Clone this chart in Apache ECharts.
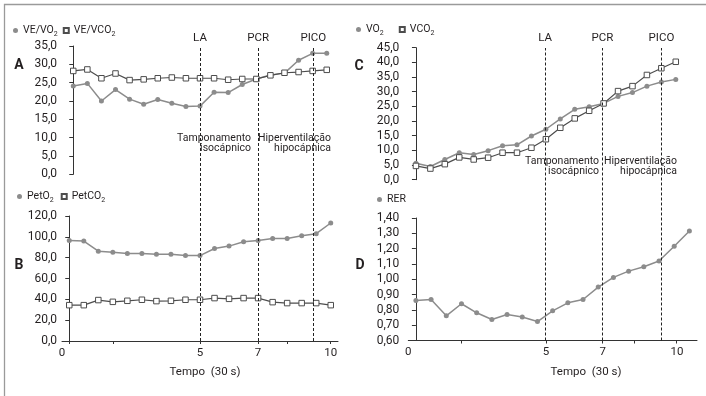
<!DOCTYPE html>
<html><head><meta charset="utf-8">
<script src="https://cdn.jsdelivr.net/npm/echarts@6/dist/echarts.min.js"></script>
<style>html,body{margin:0;padding:0;background:#fff}#c{width:706px;height:396px}</style>
</head><body><div id="c"></div>
<script>
// sample index (30 s stages)
const steps = [0,1,2,3,4,5,6,7,8,9,10,11,12,13,14,15,16,17,18];
// Panel A
const veVo2  = [24.1,24.8,20.0,23.1,20.5,19.1,20.4,19.4,18.5,18.6,22.4,22.3,24.5,26.0,27.1,27.6,31.1,33.0,33.0];
const veVco2 = [28.2,28.6,26.2,27.5,25.7,25.9,26.2,26.4,26.2,26.2,26.2,25.8,26.0,26.0,27.0,27.7,27.9,28.2,28.5];
// Panel B
const petO2  = [96.5,95.9,86.2,85.3,84.0,84.0,83.3,83.3,82.0,82.0,88.8,91.1,95.2,96.5,98.5,98.5,101.0,103.0,113.3];
const petCo2 = [34.4,34.4,39.3,37.6,38.6,39.6,38.3,38.6,39.6,39.6,41.2,40.5,41.2,41.2,37.3,36.4,36.4,36.4,34.4];
// Panel C
const vo2  = [5.6,4.5,6.9,9.2,8.6,9.9,11.6,11.9,14.9,17.2,20.7,24.0,24.9,26.0,28.4,29.7,31.9,33.3,34.2];
const vco2 = [4.7,3.8,5.3,7.6,6.9,7.5,9.2,9.2,10.9,13.8,17.7,20.9,23.5,26.0,30.2,31.9,35.7,38.0,40.2];
// Panel D
const rer = [0.862,0.868,0.761,0.840,0.781,0.737,0.770,0.753,0.724,0.794,0.846,0.868,0.949,1.012,1.053,1.082,1.119,1.215,1.315];

// x-axis tick labels ("Tempo (30 s)") and where they sit on the sample index scale
const xTickLabels = ['0','5','7','10'];
const leftLabelPos = [-0.5, 9, 13, 18];
const leftTickPos = [0, 3, 9, 13, 15, 18];
const rightLabelPos = [-0.5, 8.56, 12.29, 17.18];
const rightTickPos = [2.97, 8.56, 12.29, 14.37, 17.16];

// threshold markers
const markerNames = ['LA','PCR','PICO'];
const leftMarkerPos = [9, 13, 16.8];
const rightMarkerPos = [8.51, 12.28, 16.16];

const FONT = 'Roboto';
const TXT = '#231f20';
const GRAY = '#8c8c8c';
const DARK = '#4d4d4d';

function pairs(arr){ return steps.map((s,i)=>[s, arr[i]]); }
function sub(name){ return '{n|' + name.slice(0,-1) + '}{s|' + name.slice(-1) + '}'; }
function labelFor(posArr){
  return function(v){
    let best = 0, d = 1e9;
    posArr.forEach((p,k)=>{ if (Math.abs(p-v) < d) { d = Math.abs(p-v); best = k; } });
    return xTickLabels[best];
  };
}
const rich = { n:{fontSize:10.5, fontFamily:FONT, color:TXT, lineHeight:14}, s:{fontSize:7, fontFamily:FONT, color:TXT, verticalAlign:'bottom', lineHeight:9} };

function yAxis(gi, min, max, interval, dec, margin){
  return {
    type:'value', gridIndex:gi, min:min, max:max, interval:interval,
    axisLine:{show:true, lineStyle:{color:'#333', width:1}},
    axisTick:{show:true, inside:false, length:4, lineStyle:{color:'#333'}},
    splitLine:{show:false},
    axisLabel:{fontSize:12, fontFamily:FONT, color:TXT, margin:margin,
      formatter: v => v.toFixed(dec).replace('.', ',')}
  };
}
function hiddenX(gi, min, max){
  return {type:'value', gridIndex:gi, min:min, max:max, show:false};
}
function shownX(gi, labelPos, tickPos){
  return {
    type:'value', gridIndex:gi, min:-0.5, max:18.5,
    axisLine:{show:true, onZero:false, lineStyle:{color:'#333', width:1}},
    axisTick:{show:true, length:3, inside:false, customValues:tickPos, lineStyle:{color:'#333'}},
    splitLine:{show:false},
    axisLabel:{show:true, customValues:labelPos, fontSize:11.5, fontFamily:FONT, color:TXT, margin:6,
      formatter: labelFor(labelPos)}
  };
}
function circleSeries(name, xi, yi, arr){
  return {name:name, type:'line', xAxisIndex:xi, yAxisIndex:yi, data:pairs(arr),
    symbol:'circle', symbolSize:5, showSymbol:true, animation:false,
    lineStyle:{color:GRAY, width:1.5}, itemStyle:{color:GRAY}, z:3};
}
function squareSeries(name, xi, yi, arr){
  return {name:name, type:'line', xAxisIndex:xi, yAxisIndex:yi, data:pairs(arr),
    symbol:'rect', symbolSize:5.5, showSymbol:true, animation:false,
    lineStyle:{color:DARK, width:1.2}, itemStyle:{color:'#fff', borderColor:DARK, borderWidth:1}, z:4};
}
function markerSeries(name, xi, yi, pos){
  return {name:name, type:'line', xAxisIndex:xi, yAxisIndex:yi, data:[], silent:true, z:2,
    markLine:{
      silent:true, symbol:['none','none'], animation:false,
      lineStyle:{color:'#222', type:[3,2], width:1},
      label:{show:true, position:'end', formatter:'{b}', color:TXT, fontSize:11.5, fontFamily:FONT, distance:4},
      data: markerNames.map((n,k)=>({name:n, xAxis:pos[k]}))
    }};
}
function legend(left, top, gap, names, icons){
  return {left:left, top:top, itemGap:gap, itemWidth:5, itemHeight:5, padding:0,
    selectedMode:false,
    data: names.map((n,k)=>({name:n, icon:icons[k]})),
    formatter: n => n==='RER' ? '{n|RER}' : sub(n),
    textStyle:{rich:rich}};
}

const chart = echarts.init(document.getElementById('c'), null, {renderer:'canvas'});
chart.setOption({
  backgroundColor:'#fff',
  animation:false,
  textStyle:{fontFamily:FONT},
  grid:[
    {left:62, top:46, width:276, height:128.3, outerBoundsMode:'none', containLabel:false},
    {left:62, top:216, width:276, height:125, outerBoundsMode:'none', containLabel:false},
    {left:408.3, top:47.7, width:288.7, height:132, outerBoundsMode:'none', containLabel:false},
    {left:408.3, top:218, width:288.7, height:122.5, outerBoundsMode:'none', containLabel:false},
    {left:62, top:48, width:276, height:293, outerBoundsMode:'none', containLabel:false},
    {left:408.3, top:48, width:288.7, height:292.5, outerBoundsMode:'none', containLabel:false}
  ],
  xAxis:[
    hiddenX(0, -0.8, 18.8),
    shownX(1, leftLabelPos, leftTickPos),
    hiddenX(2, -0.53, 19.47),
    shownX(3, rightLabelPos, rightTickPos),
    hiddenX(4, -0.5, 18.5),
    hiddenX(5, -0.5, 18.5)
  ],
  yAxis:[
    yAxis(0, 0, 35, 5, 1, 5),
    yAxis(1, 0, 120, 20, 1, 5),
    yAxis(2, 0, 45, 5, 1, 9),
    yAxis(3, 0.6, 1.4, 0.1, 2, 9),
    {type:'value', gridIndex:4, min:0, max:1, show:false},
    {type:'value', gridIndex:5, min:0, max:1, show:false}
  ],
  legend:[
    legend(13, 25, 5, ['VE/VO2','VE/VCO2'], ['circle','rect']),
    legend(17, 191, 7, ['PetO2','PetCO2'], ['circle','rect']),
    legend(356, 24, 15, ['VO2','VCO2'], ['circle','rect']),
    legend(377, 194, 9, ['RER'], ['circle'])
  ],
  series:[
    markerSeries('limiaresL', 4, 4, leftMarkerPos),
    markerSeries('limiaresR', 5, 5, rightMarkerPos),
    circleSeries('VE/VO2', 0, 0, veVo2),
    squareSeries('VE/VCO2', 0, 0, veVco2),
    circleSeries('PetO2', 1, 1, petO2),
    squareSeries('PetCO2', 1, 1, petCo2),
    circleSeries('VO2', 2, 2, vo2),
    squareSeries('VCO2', 2, 2, vco2),
    circleSeries('RER', 3, 3, rer)
  ],
  graphic:[
    {type:'polyline', silent:true, shape:{points:[[4.5,396],[4.5,4.5],[706,4.5]]}, style:{stroke:'#9a9a9a', lineWidth:1.3, fill:null}},
    {type:'text', style:{text:'A', x:19, y:65, align:'center', verticalAlign:'middle', font:'bold 14px Roboto', fill:TXT}},
    {type:'text', style:{text:'B', x:19, y:265, align:'center', verticalAlign:'middle', font:'bold 14px Roboto', fill:TXT}},
    {type:'text', style:{text:'C', x:359, y:66, align:'center', verticalAlign:'middle', font:'bold 14px Roboto', fill:TXT}},
    {type:'text', style:{text:'D', x:360, y:265, align:'center', verticalAlign:'middle', font:'bold 14px Roboto', fill:TXT}},
    {type:'text', style:{text:'Tamponamento\nisocápnico', x:251, y:143.5, align:'right', verticalAlign:'middle', font:'10.5px Roboto', lineHeight:10.5, fill:TXT}},
    {type:'text', style:{text:'Hiperventilação\nhipocápnica', x:331, y:143.5, align:'right', verticalAlign:'middle', font:'10.5px Roboto', lineHeight:10.5, fill:TXT}},
    {type:'text', style:{text:'Tamponamento\nisocápnico', x:599, y:166.5, align:'right', verticalAlign:'middle', font:'10.5px Roboto', lineHeight:10.5, fill:TXT}},
    {type:'text', style:{text:'Hiperventilação\nhipocápnica', x:677, y:166.5, align:'right', verticalAlign:'middle', font:'10.5px Roboto', lineHeight:10.5, fill:TXT}},
    {type:'text', style:{text:'Tempo  (30 s)', x:205, y:372, align:'center', verticalAlign:'middle', font:'11.5px Roboto', fill:TXT}},
    {type:'text', style:{text:'Tempo  (30 s)', x:586, y:372, align:'center', verticalAlign:'middle', font:'11.5px Roboto', fill:TXT}}
  ]
});
</script></body></html>
